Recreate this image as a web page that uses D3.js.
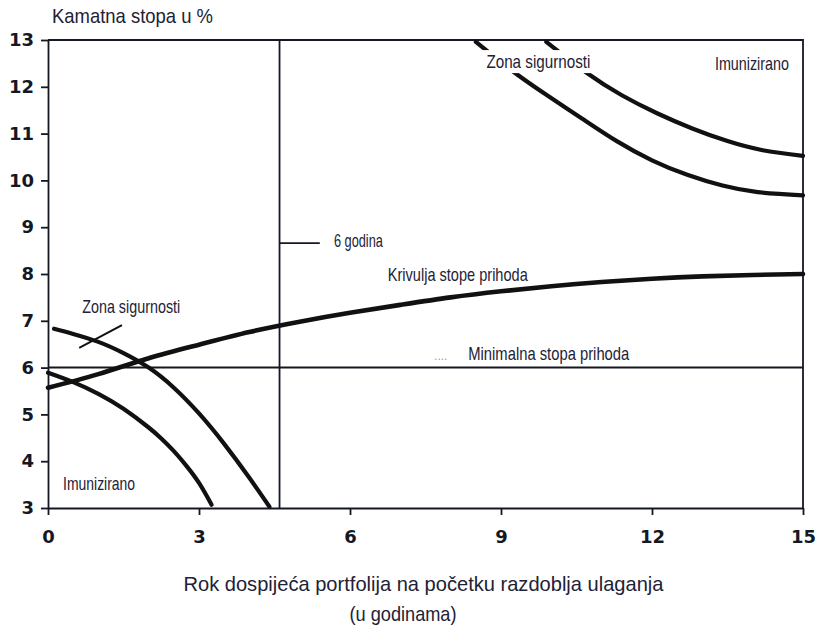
<!DOCTYPE html>
<html>
<head>
    <meta charset="utf-8">
    <script src="https://cdnjs.cloudflare.com/ajax/libs/d3/7.8.5/d3.min.js"></script>
    <style>
        body { margin: 0; background: #fff; }
        .axis text { font-family: "DejaVu Sans", sans-serif; font-weight: bold; font-size: 18px; fill: #141824; }
        .axis path, .axis line { stroke: #141824; stroke-width: 1.8; }
        .note { font-family: "Liberation Sans Narrow", "Liberation Sans", Arial, sans-serif; fill: #1d2236; }
    </style>
</head>
<body>
<div id="chart"></div>
<script>
// yield curve (Krivulja stope prihoda)
var yieldYears = [0, 1, 2, 3, 4, 5, 6, 7, 8, 9, 10, 11, 12, 13, 14, 15];
var yieldRates = [5.57, 5.86, 6.2, 6.49, 6.76, 6.98, 7.17, 7.34, 7.5, 7.63, 7.74, 7.83, 7.9, 7.95, 7.98, 8.0];

// lower left: safety zone boundary and immunized curve
var safeLowYears = [0.12, 0.5, 1.0, 1.5, 2.0, 2.5, 3.0, 3.5, 4.0, 4.4];
var safeLowRates = [6.83, 6.72, 6.55, 6.31, 6.0, 5.57, 5.02, 4.37, 3.645, 3.025];
var immLowYears = [0, 0.5, 1.0, 1.5, 2.0, 2.25, 2.5, 2.75, 3.0, 3.25];
var immLowRates = [5.89, 5.69, 5.44, 5.12, 4.72, 4.485, 4.215, 3.9, 3.535, 3.07];

// upper right: safety zone boundary and immunized curve
var safeHighYears = [8.5, 9.2, 9.9, 10.6, 11.3, 12.0, 12.7, 13.4, 14.1, 15];
var safeHighRates = [12.96, 12.36, 11.83, 11.33, 10.84, 10.43, 10.12, 9.89, 9.75, 9.68];
var immHighYears = [9.9, 10.7, 11.4, 12.1, 12.8, 13.5, 14.2, 15];
var immHighRates = [12.96, 12.30, 11.82, 11.435, 11.11, 10.84, 10.645, 10.525];

var minRate = 6;          // Minimalna stopa prihoda
var horizonYear = 4.6;    // 6 godina line
var xTicks = [0, 3, 6, 9, 12, 15];
var yTicks = [3, 4, 5, 6, 7, 8, 9, 10, 11, 12, 13];

var margin = { top: 40, right: 13, bottom: 123, left: 48 },
    width = 816 - margin.left - margin.right,
    height = 631 - margin.top - margin.bottom;

var svg = d3.select("#chart")
    .append("svg")
    .attr("width", 816)
    .attr("height", 631);

var g = svg.append("g")
    .attr("transform", "translate(" + margin.left + "," + margin.top + ")");

var x = d3.scaleLinear().domain([0, 15]).range([0, width]);
var y = d3.scaleLinear().domain([3, 13]).range([height, 0]);

// axes
g.append("g")
    .attr("class", "axis")
    .attr("transform", "translate(0," + height + ")")
    .call(d3.axisBottom(x).tickValues(xTicks).tickSize(7).tickSizeOuter(0).tickPadding(15));

g.append("g")
    .attr("class", "axis")
    .call(d3.axisLeft(y).tickValues(yTicks).tickSize(7).tickSizeOuter(0).tickPadding(7));

// frame top + right
g.append("path")
    .attr("d", "M" + x(0) + "," + y(13) + "H" + x(15) + "V" + y(3))
    .attr("fill", "none")
    .attr("stroke", "#141824")
    .attr("stroke-width", 1.8);

// minimum rate line
g.append("line")
    .attr("x1", x(0)).attr("x2", x(15))
    .attr("y1", y(minRate)).attr("y2", y(minRate))
    .attr("stroke", "#141824").attr("stroke-width", 2);

// horizon line + its label tick
g.append("line")
    .attr("x1", x(horizonYear)).attr("x2", x(horizonYear))
    .attr("y1", y(13)).attr("y2", y(3))
    .attr("stroke", "#141824").attr("stroke-width", 1.8);
g.append("line")
    .attr("x1", x(horizonYear)).attr("x2", x(horizonYear + 0.8))
    .attr("y1", y(8.66)).attr("y2", y(8.66))
    .attr("stroke", "#141824").attr("stroke-width", 1.8);

var line = d3.line()
    .x(function (d) { return x(d[0]); })
    .y(function (d) { return y(d[1]); })
    .curve(d3.curveNatural);

function curve(xs, ys, w) {
    g.append("path")
        .datum(d3.zip(xs, ys))
        .attr("fill", "none")
        .attr("stroke", "#111")
        .attr("stroke-width", w)
        .attr("stroke-linecap", "round")
        .attr("d", line);
}

curve(safeLowYears, safeLowRates, 4.2);
curve(immLowYears, immLowRates, 4.2);
curve(safeHighYears, safeHighRates, 4.2);
curve(immHighYears, immHighRates, 4.2);
curve(yieldYears, yieldRates, 4.6);

// leader for left safety zone label
g.append("line")
    .attr("x1", x(0.62)).attr("y1", y(6.42))
    .attr("x2", x(1.47)).attr("y2", y(6.91))
    .attr("stroke", "#111").attr("stroke-width", 2);

// annotations: text, year, rate, font size, width, knock out lines behind?
var notes = [
    ["Zona sigurnosti", 0.68, 7.17, 19, 98, false],
    ["Imunizirano", 0.30, 3.38, 19, 72, false],
    ["6 godina", 5.68, 8.58, 19, 49, false],
    ["Krivulja stope prihoda", 6.75, 7.85, 19, 140, false],
    ["Minimalna stopa prihoda", 8.35, 6.16, 19, 161, false],
    ["Zona sigurnosti", 8.71, 12.40, 19, 104, true],
    ["Imunizirano", 13.25, 12.36, 19, 74, false]
];

notes.forEach(function (n) {
    var t = g.append("text")
        .attr("class", "note")
        .attr("x", x(n[1]))
        .attr("y", y(n[2]))
        .style("font-size", n[3] + "px")
        .attr("textLength", n[4])
        .attr("lengthAdjust", "spacingAndGlyphs")
        .text(n[0]);
    if (n[5]) {
        var b = t.node().getBBox();
        g.insert("rect", function () { return t.node(); })
            .attr("x", b.x - 5).attr("y", b.y - 1)
            .attr("width", b.width + 10).attr("height", b.height + 2)
            .attr("fill", "#fff");
    }
});

// faint leader dots before "Minimalna stopa prihoda"
g.append("text")
    .attr("class", "note")
    .attr("x", x(7.67)).attr("y", y(6.16))
    .style("font-size", "12px")
    .style("fill", "#9a9ca6")
    .text("....");

// y axis title
svg.append("text")
    .attr("class", "note")
    .attr("x", 52).attr("y", 23)
    .style("font-size", "21px")
    .attr("textLength", 161)
    .attr("lengthAdjust", "spacingAndGlyphs")
    .text("Kamatna stopa u %");

// x axis title
svg.append("text")
    .attr("class", "note")
    .attr("x", margin.left + x(7.5) - 2).attr("y", 591)
    .attr("text-anchor", "middle")
    .style("font-size", "21px")
    .attr("textLength", 480)
    .attr("lengthAdjust", "spacingAndGlyphs")
    .text("Rok dospijeća portfolija na početku razdoblja ulaganja");

svg.append("text")
    .attr("class", "note")
    .attr("x", 403).attr("y", 621)
    .attr("text-anchor", "middle")
    .style("font-size", "21px")
    .attr("textLength", 107)
    .attr("lengthAdjust", "spacingAndGlyphs")
    .text("(u godinama)");
</script>
</body>
</html>
